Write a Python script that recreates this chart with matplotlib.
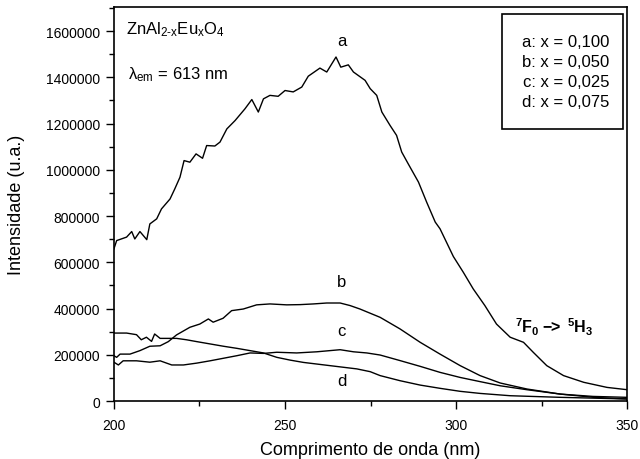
import matplotlib
matplotlib.use("Agg")
import matplotlib.pyplot as plt
from matplotlib.patches import Rectangle
from matplotlib.ticker import MultipleLocator

plt.rcParams['font.family'] = ['Liberation Sans', 'DejaVu Sans']
plt.rcParams['mathtext.fontset'] = 'custom'
plt.rcParams['mathtext.rm'] = 'Liberation Sans'
plt.rcParams['mathtext.it'] = 'Liberation Sans'
plt.rcParams['mathtext.bf'] = 'Liberation Sans:bold'
plt.rcParams['mathtext.default'] = 'regular'

# curve a: x = 0,100
wl_a = [200, 200.8, 203.7, 205.2, 206.1, 207.6, 209.6, 210.5, 212.5, 213.9, 216.4, 217.8,
        219.3, 220.5, 222.2, 224.0, 225.9, 227.1, 229.5, 231, 233, 235.4, 238.3, 240.3,
        242.2, 243.7, 245.6, 248, 250, 252.4, 254.9, 256.8, 260.2, 262.2, 264.9, 266.3,
        268.5, 270, 273.4, 274.9, 276.8, 278.3, 280.7, 282.6, 284.1, 286, 289, 291.4,
        293.9, 295.3, 299.2, 302.1, 305, 308.4, 311.8, 315.8, 319.7, 322.6, 326.5, 331.4,
        337.3, 344.1, 350]
int_a = [658000, 694000, 709000, 733000, 701000, 733000, 698000, 766000, 788000, 831000,
         874000, 918000, 968000, 1040000, 1033000, 1069000, 1050000, 1105000, 1103000,
         1120000, 1177000, 1213000, 1264000, 1304000, 1250000, 1307000, 1322000, 1318000,
         1343000, 1337000, 1358000, 1405000, 1440000, 1423000, 1488000, 1444000, 1454000,
         1423000, 1387000, 1351000, 1322000, 1250000, 1192000, 1149000, 1077000, 1026000,
         947000, 860000, 774000, 745000, 625000, 557000, 485000, 413000, 333000, 276000,
         254000, 210000, 153000, 110000, 81000, 59000, 49000]

# curve b: x = 0,050
wl_b = [200, 200.8, 201.8, 204.7, 207.6, 210.5, 213.5, 215.9, 218.3, 222.2, 225.1, 227.6,
        229, 231.9, 234.4, 237.8, 241.7, 245.6, 250.5, 254.4, 258.3, 262.2, 266.1, 269,
        271.9, 277.8, 283.6, 289.5, 295.3, 301.2, 307, 312.9, 320.7, 330.5, 340.2, 350]
int_b = [196000, 189000, 203000, 203000, 218000, 237000, 239000, 257000, 286000, 319000,
         333000, 355000, 341000, 358000, 391000, 398000, 416000, 420000, 416000, 417000,
         420000, 424000, 424000, 413000, 398000, 362000, 312000, 254000, 203000, 153000,
         110000, 78000, 52000, 30000, 16000, 9000]

# curve c: x = 0,025
wl_c = [200, 201.3, 202.7, 206.6, 210.5, 213.5, 216.9, 220.3, 224.2, 228.1, 232, 235.9,
        239.8, 243.7, 247.6, 253.4, 259.3, 266.1, 270, 273.9, 277.8, 283.6, 289.5, 295.3,
        301.2, 307, 312.9, 320.7, 330.5, 340, 350]
int_c = [168000, 156000, 174000, 174000, 168000, 174000, 156000, 156000, 164000, 174000,
         185000, 196000, 208000, 206000, 211000, 208000, 213000, 222000, 213000, 208000,
         199000, 175000, 150000, 124000, 102000, 84000, 66000, 49000, 30000, 20000, 16000]

# curve d: x = 0,075
wl_d = [200, 203.7, 206.6, 208, 209.5, 211, 211.9, 213.5, 215.9, 218.3, 221.2, 224.2,
        228.1, 232, 235.9, 239.8, 243.7, 247.6, 251.5, 255.4, 259.3, 263.2, 267.1, 271,
        274.9, 277.8, 283.6, 289.5, 295.3, 301.2, 307, 315.8, 330.5, 350]
int_d = [294000, 294000, 287000, 265000, 276000, 258000, 290000, 271000, 271000, 271000,
         265000, 257000, 247000, 237000, 228000, 218000, 208000, 189000, 177000, 167000,
         160000, 153000, 146000, 139000, 127000, 110000, 88000, 69000, 55000, 42000,
         33000, 23000, 16000, 9000]

legend_lines = ["a: x = 0,100", "b: x = 0,050", "c: x = 0,025", "d: x = 0,075"]

fig = plt.figure(figsize=(6.4, 4.6), dpi=100)
ax = fig.add_axes([0.178, 0.126, 0.802, 0.857])

for wl, val in [(wl_a, int_a), (wl_b, int_b), (wl_c, int_c), (wl_d, int_d)]:
    ax.plot(wl, val, color='black', lw=1.0)

ax.set_xlim(200, 350)
ax.set_ylim(0, 1705000)
ax.xaxis.set_major_locator(MultipleLocator(50))
ax.xaxis.set_minor_locator(MultipleLocator(25))
ax.yaxis.set_major_locator(MultipleLocator(200000))
ax.yaxis.set_minor_locator(MultipleLocator(100000))
ax.yaxis.set_major_formatter(matplotlib.ticker.FuncFormatter(lambda v, p: f"{int(v)}"))
ax.tick_params(which='major', direction='out', length=6, width=1, labelsize=10, pad=4)
ax.tick_params(axis='x', which='major', pad=6)
ax.tick_params(which='minor', direction='out', length=3.5, width=1)
ax.tick_params(top=False, right=False)
for s in ax.spines.values():
    s.set_linewidth(1.2)

ax.set_xlabel("Comprimento de onda (nm)", fontsize=13)
ax.set_ylabel("Intensidade (u.a.)", fontsize=13)
ax.xaxis.set_label_coords(0.5, -0.124)
ax.xaxis.label.set_va('center')
ax.yaxis.set_label_coords(-0.189, 0.5)
ax.yaxis.label.set_va('center')

ax.text(203.5, 1610000, r"ZnAl$_{2\text{-}x}$Eu$_x$O$_4$", fontsize=12, va='center')
ax.text(204, 1415000, r"$\lambda_{em}$ = 613 nm", fontsize=12, va='center')
ax.text(266.5, 1560000, "a", fontsize=12, ha='center', va='center')
ax.text(266.5, 515000, "b", fontsize=12, ha='center', va='center')
ax.text(266.5, 303000, "c", fontsize=12, ha='center', va='center')
ax.text(266.5, 87000, "d", fontsize=12, ha='center', va='center')
ax.text(328.5, 325000, r"$\mathbf{^{7}F_{0}}$ $\mathbf{-\!\!>}$ $\mathbf{^{5}H_{3}}$",
        fontsize=11.5, ha='center', va='center')

ax.add_patch(Rectangle((0.756, 0.689), 0.236, 0.293, transform=ax.transAxes,
                       fill=False, edgecolor='black', lw=1.2))
ax.text(0.965, 0.93, "\n".join(legend_lines), transform=ax.transAxes,
        ha='right', va='top', fontsize=12, linespacing=1.4)

fig.savefig("out.png", dpi=100)
